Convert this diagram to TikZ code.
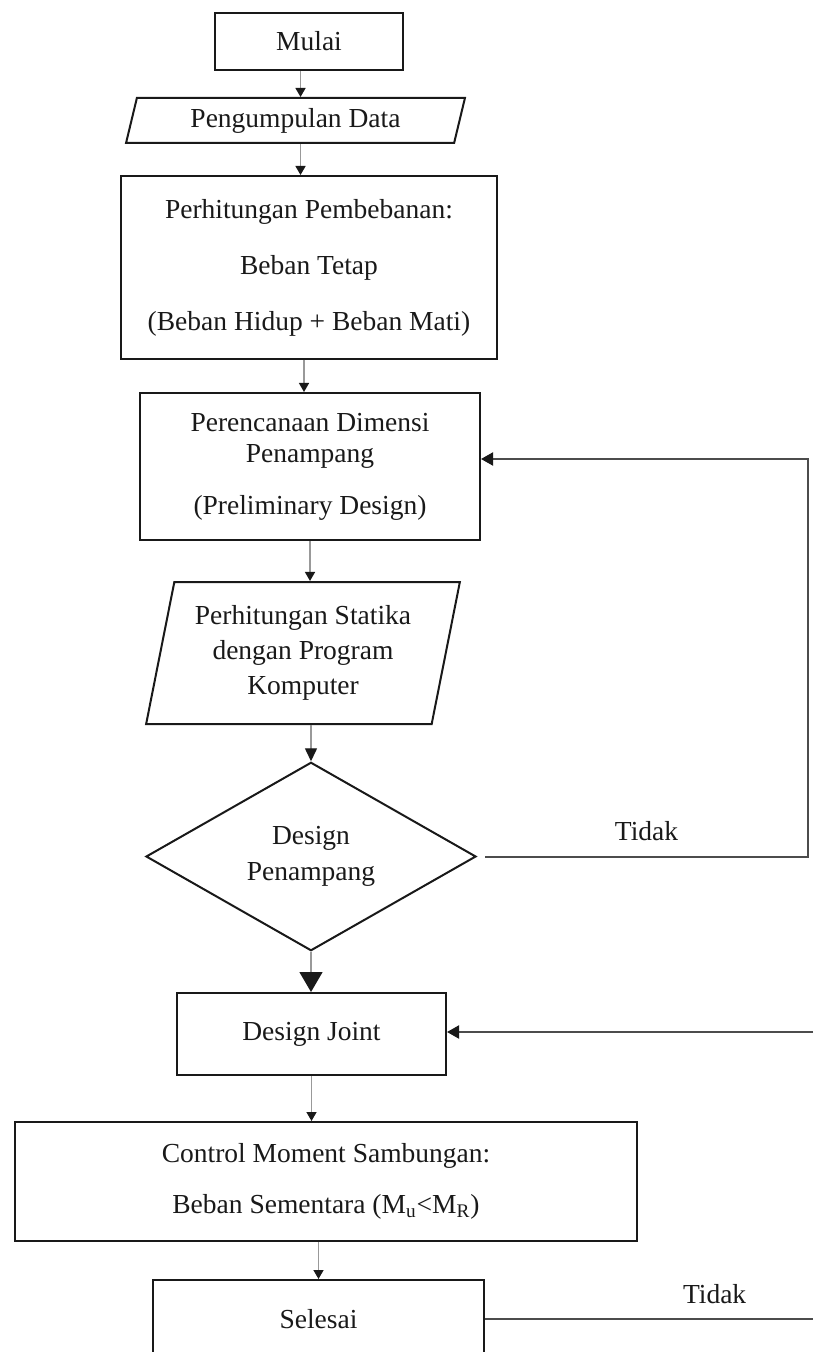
\documentclass[tikz,border=0pt]{standalone}
\usepackage{fontspec}
\setmainfont{Liberation Serif}
\usetikzlibrary{positioning,shapes.geometric,arrows.meta}

\begin{document}
\begin{tikzpicture}[
    x=0.5pt, y=-0.5pt,
    font=\fontsize{13.75}{15.5}\selectfont,
    text=black!90,
    % Node styles
    process/.style={draw=black!90, line width=1pt, align=center, inner sep=0pt},
    inout/.style={draw=black!90, line width=1pt, align=center, inner sep=0pt, trapezium,
        trapezium stretches=true, trapezium left angle=74, trapezium right angle=106},
    decision/.style={draw=black!90, line width=1pt, align=center, inner sep=0pt, diamond},
    arrow/.style={-{Triangle[width=5pt,length=4.5pt,color=black!90]}, draw=black!40, line width=0.7pt},
    bighead/.style={-{Triangle[width=11.5pt,length=10pt,color=black!90]}},
    midhead/.style={-{Triangle[width=6pt,length=6.5pt,color=black!90]}},
    back/.style={draw=black!70, line width=1pt},
    backarrow/.style={back, -{Triangle[width=6.5pt,length=6pt,color=black!90]}},
]
    \path[use as bounding box, clip] (0,0) rectangle (813,1352);

    % Define nodes here
    \node[process, minimum width=94pt, minimum height=28.5pt] (mulai) at (309,41.5) {Mulai};
    \node[inout, minimum width=169.5pt, minimum height=22.5pt] (data) at (295.5,120.5) {Pengumpulan Data};
    \node[process, minimum width=188pt, minimum height=91.5pt] (beban) at (309,267.5)
        {Perhitungan Pembebanan:\\[12.5pt]Beban Tetap\\[12.5pt](Beban Hidup + Beban Mati)};
    \node[process, minimum width=170pt, minimum height=73.5pt] (rencana) at (310,466.5)
        {Perencanaan Dimensi\\Penampang\\[10.5pt](Preliminary Design)};
    \node[inout, trapezium left angle=76, trapezium right angle=104, minimum width=157pt,
        minimum height=71pt] (statika) at (303,653)
        {Perhitungan Statika\\[2pt]dengan Program\\[2pt]Komputer};
    \node[decision, minimum width=165pt, minimum height=92.5pt] (cek) at (311,856.5)
        {Design\\[2.5pt]Penampang};
    \node[process, minimum width=134.5pt, minimum height=41pt] (joint) at (311.5,1034) {Design Joint};
    \node[process, minimum width=311pt, minimum height=59.5pt] (control) at (326,1181.5)
        {Control Moment Sambungan:\\[10pt]Beban Sementara (M\textsubscript{u}<M\textsubscript{R})};
    \node[process, minimum width=165.5pt, minimum height=39pt] (selesai) at (318.5,1319) {Selesai};

    \coordinate (turn) at (808,856.5);
    \coordinate (top) at (808,459);
    \coordinate (edgeA) at (813,1032);
    \coordinate (edgeB) at (813,1319);

    % Draw connections
    \draw[arrow] ([xshift=2.5pt]data.north |- mulai.south) -- ([xshift=2.5pt]data.north);
    \draw[arrow] ([xshift=2.5pt]data.south) -- ([xshift=2.5pt]data.south |- beban.north);
    \draw[arrow] ([xshift=-2.5pt]beban.south) -- ([xshift=-2.5pt]beban.south |- rencana.north);
    \draw[arrow] (rencana.south) -- (rencana.south |- statika.north);
    \draw[arrow, midhead] (cek.north |- statika.south) -- (cek.north);
    \draw[arrow, bighead] (cek.south) -- (cek.south |- joint.north);
    \draw[arrow] (joint.south) -- (joint.south |- control.north);
    \draw[arrow] (selesai.north |- control.south) -- (selesai.north);

    \draw[backarrow] ([xshift=4pt]cek.east) -- node[above=4pt] {Tidak} (turn)
        -- (top) -- (top -| rencana.east);
    \draw[backarrow] (edgeA) -- (edgeA -| joint.east);
    \draw[back] (selesai.east) -- node[pos=0.7, above=4pt] {Tidak} (edgeB);

\end{tikzpicture}
\end{document}
